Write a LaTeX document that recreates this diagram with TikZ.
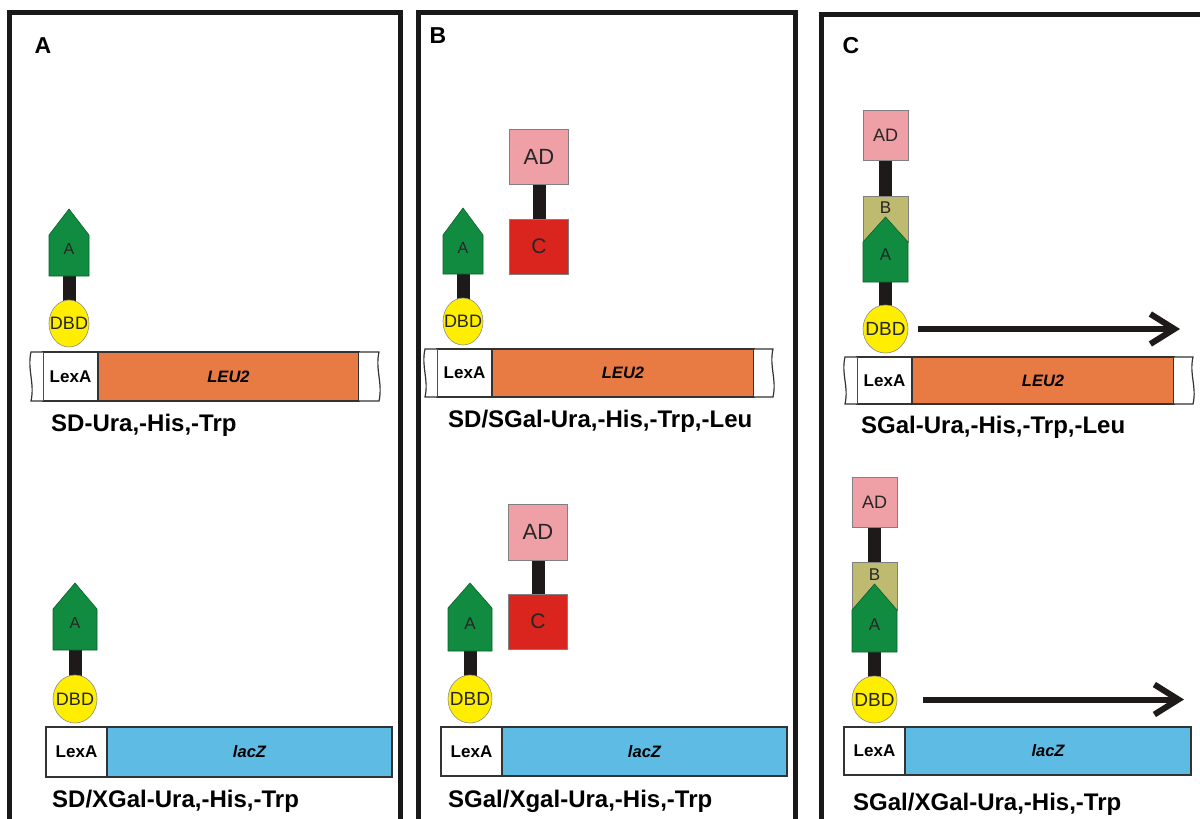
\documentclass[tikz,border=0pt]{standalone}
\usepackage{fontspec}
\setmainfont{Liberation Sans}
\usetikzlibrary{positioning,shapes.geometric,arrows.meta,backgrounds}

\definecolor{dgreen}{RGB}{16,139,63}
\definecolor{dyellow}{RGB}{255,238,0}
\definecolor{dpink}{RGB}{239,160,166}
\definecolor{dred}{RGB}{218,36,30}
\definecolor{dolive}{RGB}{190,186,112}
\definecolor{gorange}{RGB}{232,122,67}
\definecolor{gblue}{RGB}{94,188,228}
\definecolor{linker}{RGB}{30,26,26}

\newcommand\fsz[1]{\fontsize{#1}{#1}\selectfont}

\tikzset{
  panel/.style={draw=black!90, line width=5pt},
  linkbar/.style={draw=linker, line width=13pt},
  house/.style={fill=dgreen, draw=dgreen!70!black, line width=0.6pt},
  dlabel/.style={inner sep=0pt, text=black!85},
  dbd/.style={ellipse, fill=dyellow, draw=black!45, line width=0.6pt, inner sep=0pt, text=black!85},
  adbox/.style={rectangle, fill=dpink, draw=black!50, line width=0.6pt, inner sep=0pt, text=black!85},
  cbox/.style={adbox, fill=dred},
  bbox/.style={adbox, fill=dolive},
  lexa/.style={rectangle, fill=white, draw=black!80, line width=1.2pt, inner sep=0pt, outer sep=0pt, font=\fsz{17}\bfseries},
  gene/.style={lexa, font=\fsz{16.5}\bfseries\itshape},
  endcap/.style={fill=white, draw=black!80, line width=1.2pt},
  medium/.style={inner sep=0pt, font=\fsz{24}\bfseries, anchor=base west},
  tag/.style={inner sep=0pt, font=\fsz{23}\bfseries},
  readout/.style={draw=linker, line width=6pt, -{Straight Barb[length=24pt,width=30pt]}}
}

\begin{document}
\begin{tikzpicture}[x=1pt,y=-1pt]
\clip (0,0) rectangle (1200,819);

% panels
\draw[panel] (9.5,12) rectangle (400.5,850);
\draw[panel] (418,12) rectangle (795.5,850);
\draw[panel] (821,14) rectangle (1215,850);
\node[tag] (tagA) at (43,46) {A};
\node[tag] (tagB) at (438,35.5) {B};
\node[tag] (tagC) at (851,46) {C};

% reporter genes
\foreach \n/\xa/\xb/\xc/\yc/\h/\g/\col in {a1/43/98/359/376.5/49/LEU2/gorange,a2/46/107/392/752/50/lacZ/gblue,b1/437/492/754/373/48/LEU2/gorange,b2/441/502/787/751.5/49/lacZ/gblue,c1/857/912/1174/380.5/47/LEU2/gorange,c2/844/905/1191/751/48/lacZ/gblue} {
  \pgfmathsetmacro\wa{\xb-\xa}
  \pgfmathsetmacro\wb{\xc-\xb}
  \node[lexa, minimum width=\wa pt, minimum height=\h pt] (LexA-\n) at ({(\xa+\xb)/2},\yc) {LexA};
  \node[gene, fill=\col, minimum width=\wb pt, minimum height=\h pt, right=0pt of LexA-\n] (gene-\n) {\g};
}
% broken ends of the LEU2 bars
\foreach \xi/\xo/\yt/\yb in {43/31/352/401,359/379/352/401,437/425/349/397,754/773/349/397,857/845/357/404,1174/1193/357/404}
  \filldraw[endcap] (\xi,\yt) -- (\xo,\yt) .. controls (\xo-4,\yt+18) and (\xo+4,\yb-18) .. (\xo,\yb) -- (\xi,\yb);

% prey boxes
\foreach \n/\x/\y/\w/\h/\fs in {b1/539/156.5/59/55/22,b2/538/532/59/56/22,c1/885.5/135/45/50/18,c2/874.5/502/45/50/18}
  \node[adbox, minimum width=\w pt, minimum height=\h pt, font=\fsz{\fs}] (AD-\n) at (\x,\y) {AD};
\foreach \n/\x/\y in {b1/539/246.5,b2/538/621.5}
  \node[cbox, minimum width=59pt, minimum height=55pt, font=\fsz{21}] (C-\n) at (\x,\y) {C};
\node[bbox, minimum width=45pt, minimum height=46pt, label={[dlabel, font=\fsz{17}, anchor=north, yshift=-6pt]north:B}] (B-c1) at (885.5,219) {};
\node[bbox, minimum width=45pt, minimum height=48pt, label={[dlabel, font=\fsz{17}, anchor=north, yshift=-7pt]north:B}] (B-c2) at (874.5,586) {};

% bait A
\foreach \n/\xl/\xr/\ap/\sh/\bt/\ly/\fs in {a1/49/89/209/235/276/249/16,a2/53/97/583/609/650/623/16,b1/443/483/208/235/274/248/16,b2/448/492/583/608/651/624/17,c1/863/908/217/242/282/255/17,c2/852/897/584/610/652/625/17} {
  \pgfmathsetmacro\cx{(\xl+\xr)/2}
  \draw[house] (\xl,\bt) -- (\xl,\sh) -- (\cx,\ap) -- (\xr,\sh) -- (\xr,\bt) -- cycle;
  \node[dlabel, font=\fsz{\fs}] (A-\n) at (\cx,\ly) {A};
  \coordinate (Abot-\n) at (\cx,\bt);
}

% DNA binding domains
\foreach \n/\x/\y/\w/\h/\fs in {a1/69/323.5/40/47/18,a2/75/699/44/48/18,b1/463/321.5/40/47/18,b2/470/699/44/48/19,c1/885.5/329/45/48/19,c2/874.5/699.5/45/47/19}
  \node[dbd, minimum width=\w pt, minimum height=\h pt, font=\fsz{\fs}] (DBD-\n) at (\x,\y) {\makebox[0pt]{DBD}};

% linkers
\begin{scope}[on background layer]
  \fill[white] (0,0) rectangle (1200,819);
  \foreach \n in {a1,a2,b1,b2,c1,c2}
    \draw[linkbar] (DBD-\n.center) -- (Abot-\n);
  \draw[linkbar] (AD-b1.center) -- (C-b1.center);
  \draw[linkbar] (AD-b2.center) -- (C-b2.center);
  \draw[linkbar] (AD-c1.center) -- (B-c1.center);
  \draw[linkbar] (AD-c2.center) -- (B-c2.center);
\end{scope}

% transcription
\coordinate (tip-c1) at (1180,329);
\coordinate (tip-c2) at (1184,699.5);
\draw[readout] ([xshift=10pt]DBD-c1.east) -- (tip-c1);
\draw[readout] ([xshift=26pt]DBD-c2.east) -- (tip-c2);

% media
\node[medium] (med-a1) at (51,431) {SD-Ura,-His,-Trp};
\node[medium] (med-a2) at (52,807) {SD/XGal-Ura,-His,-Trp};
\node[medium] (med-b1) at (448,427) {SD/SGal-Ura,-His,-Trp,-Leu};
\node[medium] (med-b2) at (448,807) {SGal/Xgal-Ura,-His,-Trp};
\node[medium] (med-c1) at (861,433) {SGal-Ura,-His,-Trp,-Leu};
\node[medium] (med-c2) at (853,810) {SGal/XGal-Ura,-His,-Trp};
\end{tikzpicture}
\end{document}
